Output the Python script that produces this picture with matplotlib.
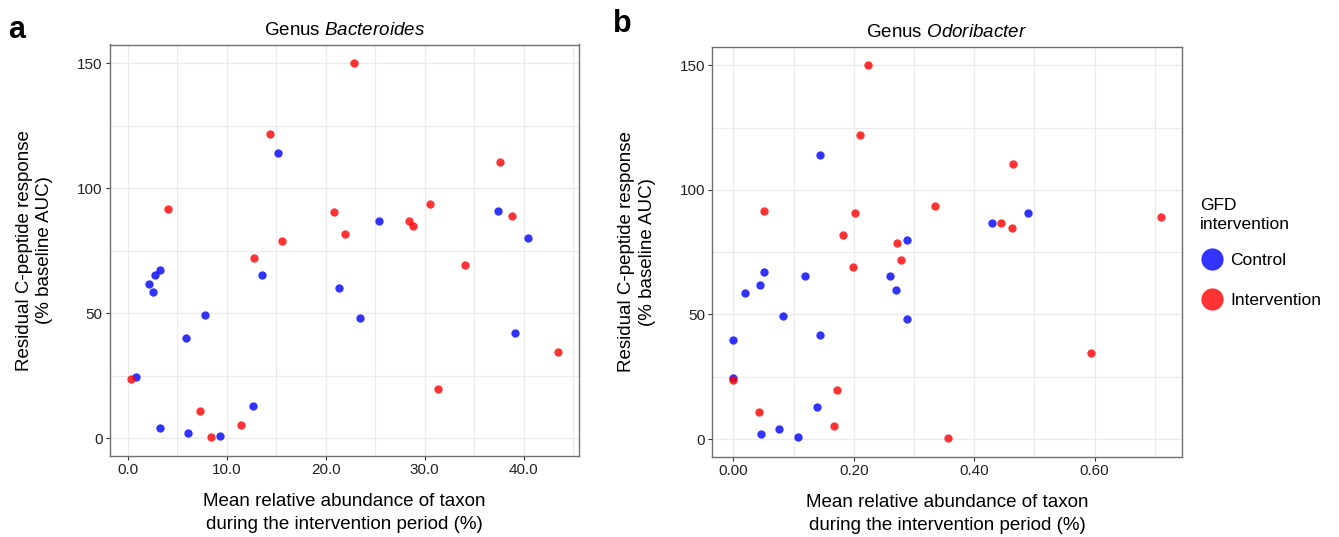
import matplotlib
matplotlib.use("Agg")
import matplotlib.pyplot as plt
from matplotlib.lines import Line2D
import numpy as np

plt.rcParams['font.family'] = ['Liberation Sans', 'DejaVu Sans']
plt.rcParams['mathtext.fontset'] = 'custom'
plt.rcParams['mathtext.rm'] = 'Liberation Sans'
plt.rcParams['mathtext.it'] = 'Liberation Sans:italic'

# ---- data ----
groups = ['Control'] * 19 + ['Intervention'] * 19
c_peptide = [114, 86.8, 90.8, 79.9, 65.3, 59.9, 61.7, 58.5, 65.3, 67.2,
             49.3, 39.9, 24.5, 12.8, 4.0, 2.1, 1.0, 48.1, 41.9,
             121.8, 91.6, 90.5, 78.8, 72.0, 150, 110.5, 81.8, 86.8, 84.8,
             93.7, 89.0, 23.5, 10.9, 5.3, 0.4, 69.2, 34.6, 19.6]
bacteroides = [15.2, 25.44, 37.39, 40.48, 13.62, 21.4, 2.21, 2.55, 2.78, 3.32,
               7.78, 5.9, 0.87, 12.68, 3.25, 6.14, 9.29, 23.46, 39.17,
               14.43, 4.06, 20.85, 15.57, 12.72, 22.82, 37.62, 21.98, 28.4, 28.83,
               30.54, 38.87, 0.33, 7.28, 11.44, 8.46, 34.07, 43.46, 31.35]
odoribacter = [0.1442, 0.430, 0.4885, 0.289, 0.260, 0.2708, 0.0448, 0.0189, 0.1189, 0.0509,
               0.0824, 0.0, 0.0, 0.1387, 0.0762, 0.0464, 0.1067, 0.2879, 0.1432,
               0.2111, 0.0504, 0.2022, 0.2718, 0.2785, 0.2238, 0.4636, 0.1823, 0.4437, 0.462,
               0.3343, 0.7094, 0.0, 0.0431, 0.1664, 0.3559, 0.198, 0.5946, 0.1724]
group_levels = ['Control', 'Intervention']
group_colors = {'Control': 'blue', 'Intervention': 'red'}

W, H = 1339, 537
fig = plt.figure(figsize=(W / 100, H / 100), dpi=100)


def axes_px(l, t, r, b):
    return fig.add_axes([l / W, 1 - b / H, (r - l) / W, (b - t) / H])


axA = axes_px(109.5, 44.5, 579, 456)
axB = axes_px(712, 46.5, 1182, 457)

grid_col = '#EBEBEB'
frame_col = '#707070'
LAB = 13.5


def style(ax, xlim, xmaj, xmin, fmt):
    ax.set_xlim(*xlim)
    ax.set_ylim(-7.2, 157.5)
    ax.set_xticks(xmaj)
    ax.set_xticks(xmin, minor=True)
    ax.set_xticklabels([fmt.format(v) for v in xmaj])
    ax.set_yticks([0, 50, 100, 150])
    ax.set_yticks([25, 75, 125], minor=True)
    ax.grid(True, which='major', color=grid_col, linewidth=1.0, zorder=0)
    ax.grid(True, which='minor', color=grid_col, linewidth=0.8, zorder=0)
    ax.set_axisbelow(True)
    for s in ax.spines.values():
        s.set_color(frame_col)
        s.set_linewidth(1.0)
    ax.tick_params(which='major', length=3, width=0.8, color='#333333',
                   labelsize=11, labelcolor='#222222', pad=2)
    ax.tick_params(which='minor', length=0)
    ax.set_ylabel('Residual C-peptide response\n(% baseline AUC)', fontsize=LAB,
                  labelpad=17, linespacing=1.3)
    ax.set_xlabel('Mean relative abundance of taxon\nduring the intervention period (%)',
                  fontsize=LAB, labelpad=11.5, linespacing=1.45)


def scatter(ax, xs):
    xs = np.asarray(xs)
    ys = np.asarray(c_peptide)
    g = np.asarray(groups)
    for lev in group_levels:
        m = g == lev
        ax.scatter(xs[m], ys[m], s=36, color=group_colors[lev], alpha=0.8,
                   linewidths=0, zorder=3)


scatter(axA, bacteroides)
style(axA, (-1.83, 45.6), [0, 10, 20, 30, 40], [5, 15, 25, 35, 45], '{:.1f}')
axA.set_title(r'Genus $\it{Bacteroides}$', fontsize=LAB, pad=7)

scatter(axB, odoribacter)
style(axB, (-0.0355, 0.745), [0, 0.2, 0.4, 0.6], [0.1, 0.3, 0.5, 0.7], '{:.2f}')
axB.set_title(r'Genus $\it{Odoribacter}$', fontsize=LAB, pad=7)

fig.text(8 / W, 1 - 30 / H, 'a', fontsize=22, fontweight='bold', va='center', ha='left')
fig.text(613 / W, 1 - 24 / H, 'b', fontsize=22, fontweight='bold', va='center', ha='left')

# legend: title drawn as text, entries as a legend
fig.text(1200 / W, 1 - 215 / H, 'GFD\nintervention', fontsize=12.5, ha='left',
         va='center', linespacing=1.35)
handles = [Line2D([], [], marker='o', ls='', color=group_colors[l], alpha=0.8,
                  markersize=16, markeredgewidth=0) for l in group_levels]
leg = fig.legend(handles, group_levels, loc='center left',
                 bbox_to_anchor=(1184 / W, 1 - 280.5 / H), frameon=False,
                 fontsize=12.5, handletextpad=0.35, labelspacing=1.39,
                 handlelength=1.4)

fig.savefig('out.png', dpi=100)
